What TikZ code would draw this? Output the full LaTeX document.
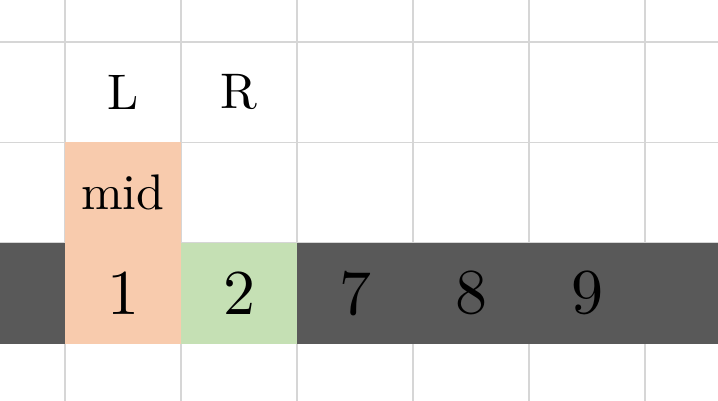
\documentclass[tikz,border=0pt]{standalone}
\usepackage{fontspec}
\usepackage{tikz}
\newfontfamily\cellFont{lmroman10-regular.otf}
\definecolor{bandGray}{HTML}{595959}
\definecolor{midOrange}{HTML}{F8CBAD}
\definecolor{rightGreen}{HTML}{C5E0B4}
\definecolor{gridGray}{HTML}{D6D6D6}
\newcommand{\cellWidth}{58pt}
\newcommand{\cellHeight}{50.25pt}
\newcommand{\gridLeft}{32.5pt}
\newcommand{\gridTop}{21pt}

\begin{document}
\begin{tikzpicture}
\tikzstyle{arrCell}=[minimum width=\cellWidth,minimum height=\cellHeight,rectangle,inner sep=0pt,outer sep=0pt,font=\cellFont\fontsize{32}{36}\selectfont]
\tikzstyle{ptrLabel}=[arrCell,font=\cellFont\fontsize{25}{30}\selectfont]
\tikzstyle{gridLine}=[gridGray,line width=0.6pt]
\useasboundingbox (0,0) rectangle (359pt,-200.5pt);
% grid
\foreach \k in {0,...,5} \draw[gridLine] ({\gridLeft+\k*\cellWidth},0) -- ({\gridLeft+\k*\cellWidth},-200.5pt);
\foreach \r in {0,...,3} \draw[gridLine] (0,{-\gridTop-\r*\cellHeight}) -- (359pt,{-\gridTop-\r*\cellHeight});
% array band
\fill[bandGray] (0,{-\gridTop-2*\cellHeight}) rectangle (359pt,{-\gridTop-3*\cellHeight});
\node[ptrLabel] (lbl-L) at ({\gridLeft+0.5*\cellWidth},{-\gridTop-0.5*\cellHeight}) {L};
\node[ptrLabel] (lbl-R) at ({\gridLeft+1.5*\cellWidth},{-\gridTop-0.5*\cellHeight}) {R};
\node[ptrLabel,fill=midOrange] (lbl-mid) at ({\gridLeft+0.5*\cellWidth},{-\gridTop-1.5*\cellHeight}) {mid};
\node[arrCell,fill=midOrange] (a-0) at ({\gridLeft+0.5*\cellWidth},{-\gridTop-2.5*\cellHeight}) {1};
\node[arrCell,fill=rightGreen] (a-1) at ({\gridLeft+1.5*\cellWidth},{-\gridTop-2.5*\cellHeight}) {2};
\node[arrCell] (a-2) at ({\gridLeft+2.5*\cellWidth},{-\gridTop-2.5*\cellHeight}) {7};
\node[arrCell] (a-3) at ({\gridLeft+3.5*\cellWidth},{-\gridTop-2.5*\cellHeight}) {8};
\node[arrCell] (a-4) at ({\gridLeft+4.5*\cellWidth},{-\gridTop-2.5*\cellHeight}) {9};
\end{tikzpicture}
\end{document}
